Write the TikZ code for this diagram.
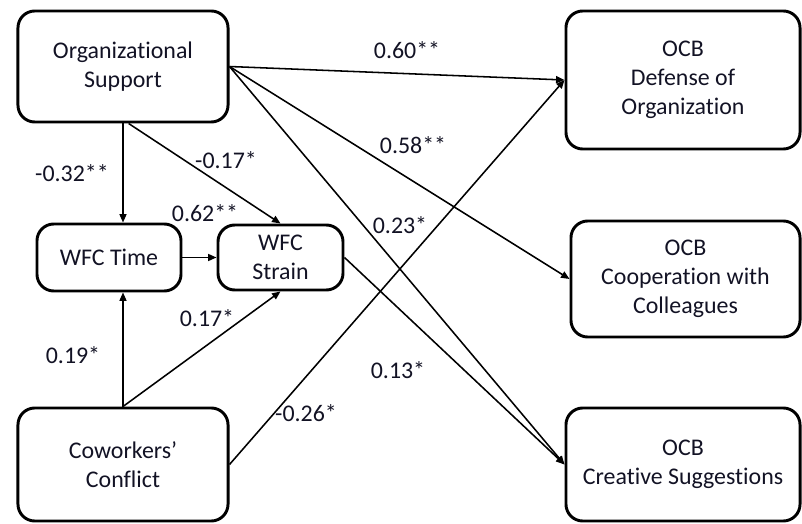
\documentclass[tikz,border=0pt]{standalone}
\usepackage{fontspec}
\setmainfont{Carlito}[Ligatures={NoCommon}, RawFeature={-liga}]
\usetikzlibrary{positioning, arrows.meta}
\definecolor{ink}{RGB}{18,18,36}
\newcommand\boxfont{\fontsize{17}{20.5}\selectfont}
\tikzset{
  block/.style={draw, line width=2.1pt, rounded corners=0.42cm, align=center,
    inner sep=0pt, text=ink, font=\boxfont},
  path/.style={-{Triangle[length=6pt,width=5pt]}, line width=1.1pt},
  coef/.style={text=ink, font=\boxfont, inner sep=1pt}
}

\begin{document}
\begin{tikzpicture}[x=0.025cm, y=-0.025cm]
  \useasboundingbox (0,0) rectangle (802,524);
  % boxes
  \node [block, minimum width=5.25cm, minimum height=2.775cm] (OS) at (123,66.5) {Organizational\\Support};
  \node [block, minimum width=3.6cm, minimum height=1.675cm] (WT) at (109,257.5) {WFC Time};
  \node [block, minimum width=3.125cm, minimum height=1.625cm] (WS) at (280.5,257.5) {WFC\\Strain};
  \node [block, minimum width=5.25cm, minimum height=2.825cm] (CC) at (123,464.5) {Coworkers’\\Conflict};
  \node [block, minimum width=5.85cm, minimum height=3.45cm] (OD) at (683,80) {OCB\\Defense of\\Organization};
  \node [block, minimum width=5.725cm, minimum height=2.9cm] (OC) at (685.5,279) {OCB\\Cooperation with\\Colleagues};
  \node [block, minimum width=5.85cm, minimum height=2.825cm] (OG) at (683,464.5) {OCB\\Creative Suggestions};
  % paths
  \draw [path] (OS.east) -- (OD.west);
  \draw [path] (OS.east) -- (OC.west);
  \draw [path] (OS.east) -- (OG.west);
  \draw [path] (OS.south) -- (OS.south |- WT.north);
  \draw [path] ([xshift=4pt]OS.south) -- (WS.north);
  \draw [path] (WT.east) -- (WS.west);
  \draw [path] (CC.north) -- (CC.north |- WT.south);
  \draw [path] (CC.north) -- (WS.south);
  \draw [path] (CC.east) -- (OD.west);
  \draw [path] (WS.east) -- (OG.west);
  % coefficients
  \node [coef] (c1) at (407,50) {0.60**};
  \node [coef] (c2) at (413,145) {0.58**};
  \node [coef] (c3) at (72,173) {-0.32**};
  \node [coef] (c4) at (226,160) {-0.17*};
  \node [coef] (c5) at (205,213) {0.62**};
  \node [coef] (c6) at (400,225) {0.23*};
  \node [coef] (c7) at (207,318) {0.17*};
  \node [coef] (c8) at (73,355) {0.19*};
  \node [coef] (c9) at (398,370) {0.13*};
  \node [coef] (c10) at (306,413) {-0.26*};
\end{tikzpicture}
\end{document}
